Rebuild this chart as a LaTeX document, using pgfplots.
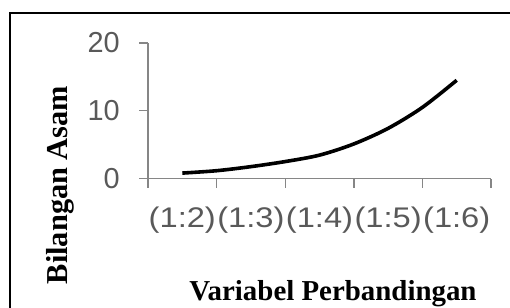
\documentclass[border=0pt]{standalone}
\usepackage{pgfplots}
\pgfplotsset{compat=1.18}
\usepackage{fontspec}
\setmainfont{Liberation Serif}
\newfontfamily\arialfont{Liberation Sans}
\newfontfamily\arialwide[FakeStretch=1.15]{Liberation Sans}
\definecolor{axgray}{HTML}{868686}
\definecolor{txtgray}{HTML}{595959}
\begin{document}
\begin{tikzpicture}[x=1bp,y=1bp]
\path[use as bounding box] (0,0) rectangle (510,307);
\clip (0,0) rectangle (510,307);
\draw[black, line width=1.6bp] (10,-10) -- (10,294) -- (520,294);
\begin{axis}[
  at={(148bp,128.5bp)}, anchor=origin,
  scale only axis, width=343bp, height=135.5bp,
  xmin=0.5, xmax=5.5, ymin=0, ymax=20,
  axis x line=bottom, axis y line=left,
  axis line style={-, draw=axgray, line width=1.4bp},
  xtick={1,2,3,4,5},
  xticklabels={(1:2),(1:3),(1:4),(1:5),(1:6)},
  minor xtick={0.5,1.5,2.5,3.5,4.5,5.5},
  ytick={0,10,20},
  minor ytick={0,10,20},
  major tick length=0pt,
  minor tick length=9bp,
  tick align=outside,
  tick style={draw=axgray, line width=1.4bp},
  /pgf/number format/assume math mode=true,
  ticklabel style={font=\arialfont\fontsize{29}{31}\selectfont, text=txtgray, inner sep=0pt},
  xticklabel style={anchor=base, yshift=-49bp, font=\arialwide\fontsize{28.5}{31}\selectfont},
  yticklabel style={anchor=east, xshift=-28bp},
  clip=false,
]
\addplot[black, line width=3.6bp, smooth, tension=0.5] coordinates {(1,0.8) (1.5,1.15) (2,1.75) (2.5,2.5) (3,3.45) (3.5,5.1) (4,7.4) (4.5,10.5) (5,14.5)};
\end{axis}
\node[font=\bfseries\fontsize{29}{31}\selectfont, anchor=base] at (333,7) {Variabel Perbandingan};
\node[font=\bfseries\fontsize{30.5}{32}\selectfont, anchor=base, rotate=90] at (67,122) {Bilangan Asam};
\end{tikzpicture}
\end{document}
